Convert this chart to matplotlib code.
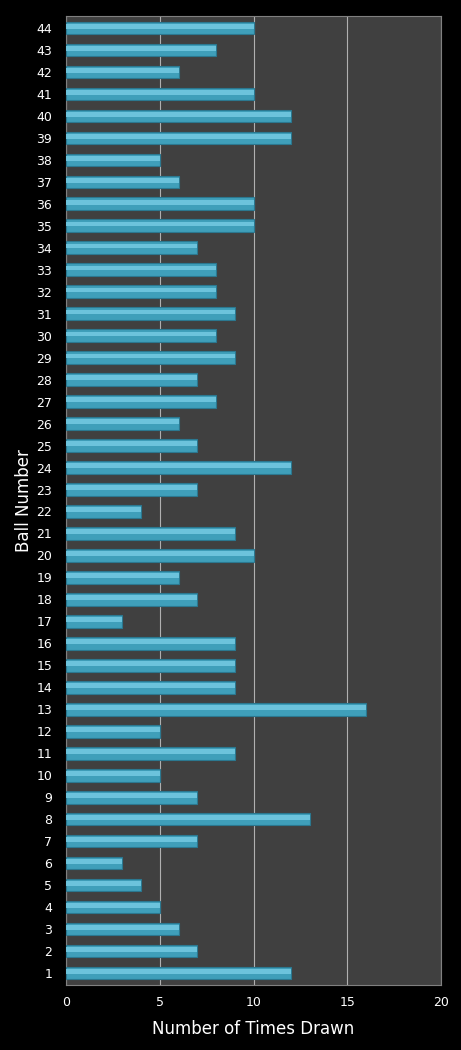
import numpy as np
import matplotlib.pyplot as plt

# ball numbers and how many times each was drawn
balls = list(range(1, 45))
times_drawn = [12, 7, 6, 5, 4, 3, 7, 13, 7, 5,
               9, 5, 16, 9, 9, 9, 3, 7, 6, 10,
               9, 4, 7, 12, 7, 6, 8, 7, 9, 8,
               9, 8, 8, 7, 10, 10, 6, 5, 12, 12,
               10, 6, 8, 10]
x_ticks = [0, 5, 10, 15, 20]

fig = plt.figure(figsize=(4.61, 10.5), dpi=100, facecolor='black')
ax = fig.add_axes([66/461, 1 - 985/1050, (441-66)/461, (985-16)/1050])
ax.set_facecolor('#404040')

y = np.array(balls)
ax.barh(y, times_drawn, height=0.58, color='#3f9fba', edgecolor='#2b7890', linewidth=0.8, zorder=3)
# lighter top stripe for the bevelled look
ax.barh(y + 0.08, times_drawn, height=0.22, color='#6cc3dc', linewidth=0, zorder=4)

ax.set_xlim(0, 20)
ax.set_ylim(0.45, 44.55)
ax.set_xticks(x_ticks)
ax.set_yticks(balls)
ax.set_yticklabels([str(b) for b in balls])
ax.xaxis.grid(True, color='#b0b0b0', linewidth=0.8, zorder=1)
ax.set_axisbelow(True)

for s in ax.spines.values():
    s.set_color('#808080')
    s.set_linewidth(0.8)

ax.tick_params(axis='both', colors='white', labelsize=9, length=0, pad=8)
ax.tick_params(axis='y', pad=10)
ax.set_xlabel('Number of Times Drawn', color='white', fontsize=12, labelpad=8)
ax.set_ylabel('Ball Number', color='white', fontsize=12, labelpad=2)

fig.savefig('out.png', dpi=100, facecolor='black')
